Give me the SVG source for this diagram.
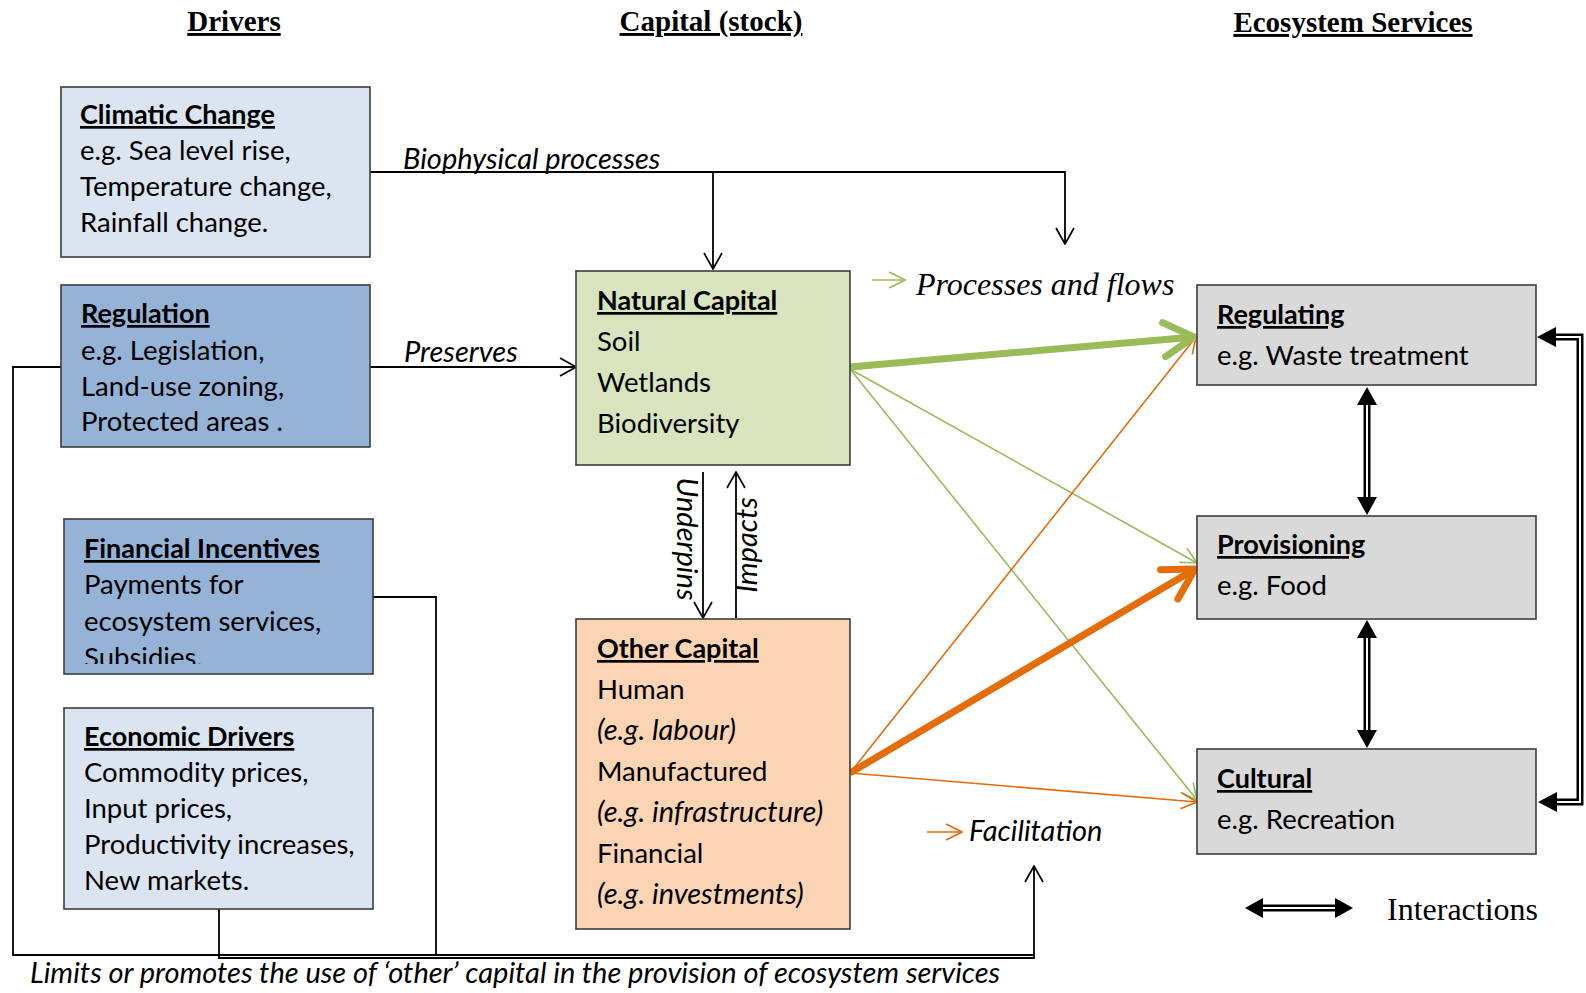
<svg xmlns="http://www.w3.org/2000/svg" width="1586" height="993" viewBox="0 0 1586 993">
  <style>
    .sans { font-family: Lato, "Liberation Sans", sans-serif; font-size: 27.5px; fill: #000; }
    .hd { font-weight: bold; text-decoration: underline; font-size: 27px; }
    .it { font-style: italic; font-size: 29px; }
    .title { font-family: "Liberation Serif", serif; font-size: 29px; font-weight: bold; text-decoration: underline; fill: #000; }
    .serif { font-family: "Liberation Serif", serif; font-size: 32px; fill: #000; }
    .box { stroke: #3c3c3c; stroke-width: 1.6; }
    .lt-blue { fill: #dbe5f1; }
    .md-blue { fill: #95b3d7; }
    .green-box { fill: #d7e4bd; }
    .orange-box { fill: #fbd4b4; }
    .grey-box { fill: #d9d9d9; }
    .wire { fill: none; stroke: #000; stroke-width: 1.8; }
    .g-thin { fill: none; stroke: #9bbb59; stroke-width: 1.6; }
    .o-thin { fill: none; stroke: #e46c0a; stroke-width: 1.6; }
    .g-thick { fill: none; stroke: #9bbb59; stroke-width: 7; }
    .o-thick { fill: none; stroke: #e46c0a; stroke-width: 7; }
    .dbl-outer { fill: none; stroke: #000; stroke-width: 7; }
    .dbl-inner { fill: none; stroke: #fff; stroke-width: 2; }
  </style>
  <defs>
    <marker id="open-black" viewBox="0 0 18 20" refX="17" refY="10" markerWidth="18" markerHeight="20" markerUnits="userSpaceOnUse" orient="auto">
      <path d="M1,1 L17,10 L1,19" fill="none" stroke="#000" stroke-width="1.7"/>
    </marker>
    <marker id="open-green" viewBox="0 0 18 20" refX="17" refY="10" markerWidth="18" markerHeight="20" markerUnits="userSpaceOnUse" orient="auto">
      <path d="M1,2 L17,10 L1,18" fill="none" stroke="#9bbb59" stroke-width="1.6"/>
    </marker>
    <marker id="open-orange" viewBox="0 0 18 20" refX="17" refY="10" markerWidth="18" markerHeight="20" markerUnits="userSpaceOnUse" orient="auto">
      <path d="M1,2 L17,10 L1,18" fill="none" stroke="#e46c0a" stroke-width="1.6"/>
    </marker>
    <marker id="thick-green" viewBox="0 0 40 44" refX="35" refY="22" markerWidth="40" markerHeight="44" markerUnits="userSpaceOnUse" orient="auto">
      <path d="M5,5 L35,22 L5,39" fill="none" stroke="#9bbb59" stroke-width="7" stroke-linecap="round" stroke-linejoin="round"/>
    </marker>
    <marker id="thick-orange" viewBox="0 0 40 44" refX="35" refY="22" markerWidth="40" markerHeight="44" markerUnits="userSpaceOnUse" orient="auto">
      <path d="M5,5 L35,22 L5,39" fill="none" stroke="#e46c0a" stroke-width="7" stroke-linecap="round" stroke-linejoin="round"/>
    </marker>
    <clipPath id="clip-fin">
      <rect x="64" y="519" width="309" height="145"/>
    </clipPath>
  </defs>

  <!-- column headings -->
  <g id="headings">
    <text class="title" x="234" y="31" text-anchor="middle">Drivers</text>
    <text class="title" x="711" y="31" text-anchor="middle">Capital (stock)</text>
    <text class="title" x="1353" y="32" text-anchor="middle">Ecosystem Services</text>
  </g>

  <!-- connectors -->
  <g id="connectors">
    <!-- biophysical processes -->
    <polyline class="wire" points="370,172 1065,172 1065,244" marker-end="url(#open-black)"/>
    <line class="wire" x1="713" y1="172" x2="713" y2="269" marker-end="url(#open-black)"/>
    <!-- preserves -->
    <line class="wire" x1="370" y1="367" x2="576" y2="367" marker-end="url(#open-black)"/>
    <!-- underpins / impacts -->
    <line class="wire" x1="703" y1="472" x2="703" y2="618" marker-end="url(#open-black)"/>
    <line class="wire" x1="736" y1="618" x2="736" y2="472" marker-end="url(#open-black)"/>
    <!-- policy feedback into facilitation -->
    <polyline class="wire" points="61,367 13,367 13,955 1034,955"/>
    <polyline class="wire" points="373,597 436,597 436,955"/>
    <polyline class="wire" points="219,909 219,958 1034,958 1034,866" marker-end="url(#open-black)"/>

    <!-- processes and flows (natural capital) -->
    <line class="g-thin" x1="850" y1="369" x2="1197" y2="563" marker-end="url(#open-green)"/>
    <line class="g-thin" x1="850" y1="369" x2="1197" y2="800" marker-end="url(#open-green)"/>
    <!-- facilitation (other capital) -->
    <line class="o-thin" x1="850" y1="773" x2="1196" y2="337" marker-end="url(#open-orange)"/>
    <line class="o-thin" x1="850" y1="773" x2="1197" y2="802" marker-end="url(#open-orange)"/>
    <line class="g-thick" x1="850" y1="367" x2="1194" y2="337" marker-end="url(#thick-green)"/>
    <line class="o-thick" x1="850" y1="773" x2="1195" y2="569" marker-end="url(#thick-orange)"/>

    <!-- interactions between services -->
    <g id="interact-reg-prov">
      <line class="dbl-outer" x1="1367" y1="402" x2="1367" y2="500"/>
      <line class="dbl-inner" x1="1367" y1="402" x2="1367" y2="500"/>
      <polygon points="1367,387 1357,405 1377,405" fill="#000"/>
      <polygon points="1367,515 1357,497 1377,497" fill="#000"/>
    </g>
    <g id="interact-prov-cult">
      <line class="dbl-outer" x1="1367" y1="635" x2="1367" y2="733"/>
      <line class="dbl-inner" x1="1367" y1="635" x2="1367" y2="733"/>
      <polygon points="1367,620 1357,638 1377,638" fill="#000"/>
      <polygon points="1367,748 1357,730 1377,730" fill="#000"/>
    </g>
    <g id="interact-reg-cult">
      <polyline class="dbl-outer" points="1553,337 1580,337 1580,802 1553,802" stroke-linejoin="miter"/>
      <polyline class="dbl-inner" points="1553,337 1580,337 1580,802 1553,802" stroke-linejoin="miter"/>
      <polygon points="1537,337 1556,327 1556,347" fill="#000"/>
      <polygon points="1538,802 1557,792 1557,812" fill="#000"/>
    </g>

    <!-- connector labels -->
    <text class="sans it" x="403" y="169">Biophysical processes</text>
    <text class="sans it" x="404" y="362">Preserves</text>
    <text class="sans it" transform="translate(677,539) rotate(90)" text-anchor="middle">Underpins</text>
    <text class="sans it" transform="translate(757,545) rotate(-90)" text-anchor="middle">Impacts</text>
    <text class="sans it" x="30" y="983">Limits or promotes the use of ‘other’ capital in the provision of ecosystem services</text>
  </g>

  <!-- drivers -->
  <g id="climatic-change">
    <rect class="box lt-blue" x="61" y="87" width="309" height="170"/>
    <text class="sans hd" x="80" y="124">Climatic Change</text>
    <text class="sans" x="80" y="160">e.g. Sea level rise,</text>
    <text class="sans" x="80" y="196">Temperature change,</text>
    <text class="sans" x="80" y="232">Rainfall change.</text>
  </g>
  <g id="regulation">
    <rect class="box md-blue" x="61" y="285" width="309" height="162"/>
    <text class="sans hd" x="81" y="323">Regulation</text>
    <text class="sans" x="81" y="360">e.g. Legislation,</text>
    <text class="sans" x="81" y="396">Land-use zoning,</text>
    <text class="sans" x="81" y="431">Protected areas .</text>
  </g>
  <g id="financial-incentives">
    <rect class="box md-blue" x="64" y="519" width="309" height="155"/>
    <text class="sans hd" x="84" y="558">Financial Incentives</text>
    <text class="sans" x="84" y="594">Payments for</text>
    <text class="sans" x="84" y="631">ecosystem services,</text>
    <text class="sans" x="84" y="667" clip-path="url(#clip-fin)">Subsidies.</text>
  </g>
  <g id="economic-drivers">
    <rect class="box lt-blue" x="64" y="708" width="309" height="201"/>
    <text class="sans hd" x="84" y="746">Economic Drivers</text>
    <text class="sans" x="84" y="782">Commodity prices,</text>
    <text class="sans" x="84" y="818">Input prices,</text>
    <text class="sans" x="84" y="854">Productivity increases,</text>
    <text class="sans" x="84" y="890">New markets.</text>
  </g>

  <!-- capital stocks -->
  <g id="natural-capital">
    <rect class="box green-box" x="576" y="271" width="274" height="194"/>
    <text class="sans hd" x="597" y="310">Natural Capital</text>
    <text class="sans" x="597" y="351">Soil</text>
    <text class="sans" x="597" y="392">Wetlands</text>
    <text class="sans" x="597" y="433">Biodiversity</text>
  </g>
  <g id="other-capital">
    <rect class="box orange-box" x="576" y="619" width="274" height="310"/>
    <text class="sans hd" x="597" y="658">Other Capital</text>
    <text class="sans" x="597" y="699">Human</text>
    <text class="sans it" x="597" y="740">(e.g. labour)</text>
    <text class="sans" x="597" y="781">Manufactured</text>
    <text class="sans it" x="597" y="822">(e.g. infrastructure)</text>
    <text class="sans" x="597" y="863">Financial</text>
    <text class="sans it" x="597" y="904">(e.g. investments)</text>
  </g>

  <!-- ecosystem services -->
  <g id="regulating">
    <rect class="box grey-box" x="1197" y="285" width="339" height="100"/>
    <text class="sans hd" x="1217" y="324">Regulating</text>
    <text class="sans" x="1217" y="365">e.g. Waste treatment</text>
  </g>
  <g id="provisioning">
    <rect class="box grey-box" x="1197" y="516" width="339" height="103"/>
    <text class="sans hd" x="1217" y="554">Provisioning</text>
    <text class="sans" x="1217" y="595">e.g. Food</text>
  </g>
  <g id="cultural">
    <rect class="box grey-box" x="1197" y="749" width="339" height="105"/>
    <text class="sans hd" x="1217" y="788">Cultural</text>
    <text class="sans" x="1217" y="829">e.g. Recreation</text>
  </g>

  <!-- legend -->
  <g id="legend">
    <line class="g-thin" x1="872" y1="280" x2="905" y2="280" marker-end="url(#open-green)"/>
    <text class="serif it" x="916" y="295">Processes and flows</text>
    <line class="o-thin" x1="927" y1="832" x2="962" y2="832" marker-end="url(#open-orange)"/>
    <text class="sans it" x="969" y="841">Facilitation</text>
    <line class="dbl-outer" x1="1260" y1="908" x2="1338" y2="908"/>
    <line class="dbl-inner" x1="1260" y1="908" x2="1338" y2="908"/>
    <polygon points="1245,908 1263,898 1263,918" fill="#000"/>
    <polygon points="1353,908 1335,898 1335,918" fill="#000"/>
    <text class="serif" x="1387" y="920">Interactions</text>
  </g>
</svg>
